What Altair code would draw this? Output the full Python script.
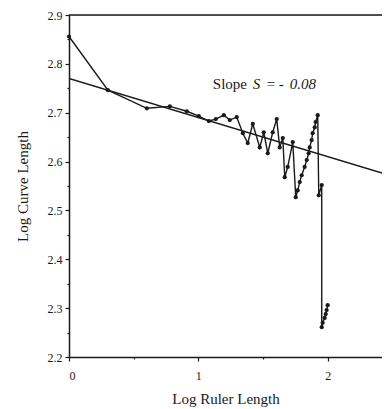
import altair as alt
import pandas as pd

# Data (log ruler length, log curve length), in path order
log_ruler = [0.000, 0.301, 0.602, 0.780, 0.911, 1.004, 1.081, 1.135, 1.197, 1.243,
             1.297, 1.344, 1.382, 1.421, 1.475, 1.506, 1.537, 1.575, 1.606, 1.629,
             1.653, 1.668, 1.691, 1.730, 1.753, 1.768, 1.784, 1.799, 1.822, 1.838,
             1.853, 1.861, 1.876, 1.884, 1.900, 1.907, 1.923, 1.931, 1.954, 1.954,
             1.961, 1.977, 1.985, 1.992, 2.000]
log_curve = [2.856, 2.746, 2.709, 2.713, 2.703, 2.693, 2.683, 2.687, 2.695, 2.685,
             2.691, 2.658, 2.638, 2.677, 2.629, 2.660, 2.617, 2.660, 2.687, 2.629,
             2.648, 2.568, 2.589, 2.640, 2.527, 2.541, 2.558, 2.572, 2.589, 2.603,
             2.617, 2.629, 2.644, 2.658, 2.670, 2.681, 2.695, 2.531, 2.552, 2.261,
             2.270, 2.280, 2.288, 2.296, 2.306]

fit_intercept = 2.77
fit_slope = -0.08
x_domain = [0, 2.42]
y_domain = [2.2, 2.9]
x_major = [0, 1, 2]
x_minor = [0.5, 1.5]
y_major = [2.2, 2.3, 2.4, 2.5, 2.6, 2.7, 2.8, 2.9]
y_minor = [2.25, 2.35, 2.45, 2.55, 2.65, 2.75, 2.85]

FONT = "Liberation Serif"
INK = "#1a1a1a"

df = pd.DataFrame({"x": log_ruler, "y": log_curve, "i": list(range(len(log_ruler)))})
fit_df = pd.DataFrame({"x": x_domain,
                       "y": [fit_intercept + fit_slope * v for v in x_domain]})

xs = alt.Scale(domain=x_domain, nice=False, zero=False)
ys = alt.Scale(domain=y_domain, nice=False, zero=False)

x_axis = alt.Axis(values=x_major, format=".0f", title="Log Ruler Length",
                  tickSize=4, labelPadding=9, titlePadding=10, grid=False,
                  domainColor=INK, tickColor=INK, domainWidth=1.5, tickWidth=1.2,
                  labelFont=FONT, labelFontSize=12, labelColor=INK,
                  titleFont=FONT, titleFontSize=15, titleFontWeight="normal", titleColor=INK)
y_axis = alt.Axis(values=y_major, format=".1f", title="Log Curve Length",
                  tickSize=4, labelPadding=3, titlePadding=17, grid=False,
                  domainColor=INK, tickColor=INK, domainWidth=1.5, tickWidth=1.2,
                  labelFont=FONT, labelFontSize=12, labelColor=INK,
                  titleFont=FONT, titleFontSize=15, titleFontWeight="normal", titleColor=INK)


def X(field="x:Q"):
    return alt.X(field, scale=xs, axis=None)


def Y(field="y:Q"):
    return alt.Y(field, scale=ys, axis=None)


base = alt.Chart(df)

line = base.mark_line(color=INK, strokeWidth=1.4).encode(
    x=alt.X("x:Q", scale=xs, axis=x_axis),
    y=alt.Y("y:Q", scale=ys, axis=y_axis),
    order="i:Q",
)
pts = base.mark_circle(color=INK, size=18, opacity=1).encode(x=X(), y=Y())
fit = alt.Chart(fit_df).mark_line(color=INK, strokeWidth=1.4, clip=True).encode(x=X(), y=Y())
top = alt.Chart(pd.DataFrame({"x": [x_domain[0]], "x2": [x_domain[1]], "y": [y_domain[1]]})).mark_rule(
    color=INK, strokeWidth=1.5).encode(x=X(), x2="x2:Q", y=Y())

# minor ticks
xminor = alt.Chart(pd.DataFrame({"x": x_minor})).mark_point(opacity=0).encode(
    x=alt.X("x:Q", scale=xs, axis=alt.Axis(values=x_minor, labels=False, title=None, domain=False,
                                            tickSize=2, tickColor=INK, tickWidth=1.2, grid=False,
                                            orient="bottom")),
)
yminor = alt.Chart(pd.DataFrame({"y": y_minor})).mark_point(opacity=0).encode(
    y=alt.Y("y:Q", scale=ys, axis=alt.Axis(values=y_minor, labels=False, title=None, domain=False,
                                            tickSize=2, tickColor=INK, tickWidth=1.2, grid=False,
                                            orient="left")),
)

# annotation "Slope S = - 0.08"
ann_x = 1.112
ann_y = 2.758
ann = pd.DataFrame({"x": [ann_x], "y": [ann_y]})
parts = [("Slope", "normal", 0), ("S", "italic", 40), ("=", "normal", 54),
         ("-", "italic", 66), ("0.08", "italic", 77)]
texts = []
for t, style, dx in parts:
    texts.append(alt.Chart(ann).mark_text(text=t, font=FONT, fontSize=15, fontStyle=style,
                                          align="left", baseline="middle", dx=dx, color=INK).encode(
        x=X(), y=Y()))

chart = alt.layer(line, fit, pts, top, xminor, yminor, *texts).resolve_axis(
    x="independent", y="independent"
).properties(
    width=313, height=342,
    autosize=alt.AutoSizeParams(type="none"),
    padding={"left": 61, "top": 7, "right": 0, "bottom": 52},
).configure_view(stroke=None).configure(background="white")

chart.save("out.html", embed_options={"renderer": "svg", "actions": False})
